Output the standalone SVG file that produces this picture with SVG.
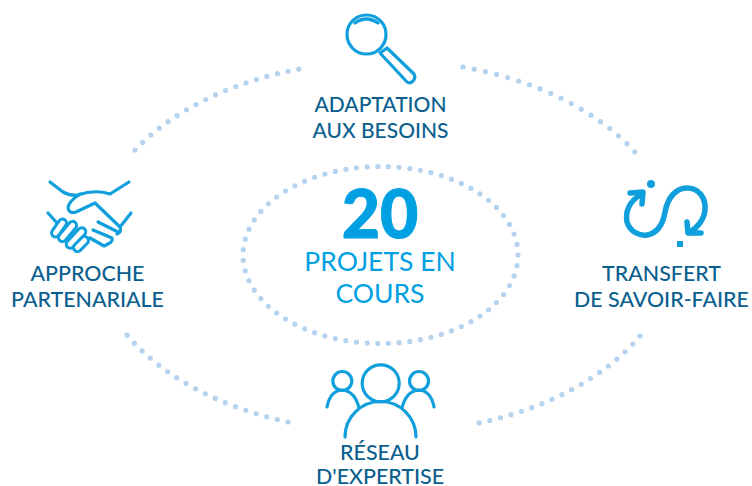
<svg xmlns="http://www.w3.org/2000/svg" width="752" height="486" viewBox="0 0 752 486">
<style>
.lb{font-family:Lato,"Liberation Sans",sans-serif;font-size:21.400px;fill:#0a5f8f;text-anchor:middle;font-weight:500}
.big{font-family:Lato,"Liberation Sans",sans-serif;font-size:26.500px;fill:#00a0e3;text-anchor:middle}
.ic{fill:none;stroke:#0f9fdc;stroke-width:3.200;stroke-linecap:round;stroke-linejoin:round}
.th{stroke-width:5.500}
.fg{fill:#fff;stroke:#0f9fdc;stroke-width:3}
.dot{fill:none;stroke:#b5d3ee;stroke-width:5.200;stroke-linecap:round;stroke-dasharray:0 1}
</style>
<rect width="752" height="486" fill="#fff"/>
<g id="connectors">
<path class="dot" pathLength="17.020" d="M135 150A288 185 0 0 1 299 69"/>
<path class="dot" pathLength="17.020" d="M463 67A288 185 0 0 1 635 152"/>
<path class="dot" pathLength="17.020" d="M640 336A288 185 0 0 1 479 423"/>
<path class="dot" pathLength="17.020" d="M288 422A288 185 0 0 1 127 335"/>
</g>
<g id="center">
<ellipse cx="380.500" cy="255" rx="137.500" ry="88.500" class="dot" pathLength="67"/>
<text x="380" y="238" style="font-family:Lato,'Liberation Sans',sans-serif;font-size:66px;font-weight:900;fill:#00a0e3;stroke:#00a0e3;stroke-width:1;text-anchor:middle">20</text>
<text class="big" x="380" y="271">PROJETS EN</text>
<text class="big" x="380" y="303">COURS</text>
</g>
<g id="adaptation">
<circle cx="366.500" cy="34.500" r="19.500" class="ic"/>
<path class="ic" d="M355 23Q366 15 378 23"/>
<path class="ic" d="M380 53L387 48L414 74Q416 78 413 81Q410 84 407 82Z"/>
<text class="lb" style="font-size:21px" x="380.500" y="112">ADAPTATION</text>
<text class="lb" style="font-size:21px" x="380.500" y="138">AUX BESOINS</text>
</g>
<g id="approche">
<path class="ic" d="M50 182L63 192Q70 196 78 195Q95 189 110 194L129 182"/>
<path class="ic" d="M80 194Q68 202 68 208Q69 214 76 212L95 203L120 227"/>
<path class="ic" d="M48 213L57 223M131 213L120 227Q122 232 117 234M98 222L118 232M93 230L112 238Q113 242 108 244L104 246L90 238"/>
<g class="fg">
<rect x="-4" y="-10" width="8" height="20" rx="4" transform="translate(59 228) rotate(35)"/>
<rect x="-4" y="-12" width="8" height="24" rx="4" transform="translate(67.500 231.500) rotate(40)"/>
<rect x="-4" y="-12.500" width="8" height="25" rx="4" transform="translate(76 238) rotate(43)"/>
<rect x="-4" y="-9" width="8" height="18" rx="4" transform="translate(81 244) rotate(45)"/>
</g>
<text class="lb" x="87.500" y="281">APPROCHE</text>
<text class="lb" x="87.500" y="307">PARTENARIALE</text>
</g>
<g id="transfert">
<path class="ic th" d="M640 195C630 201 625 211 627 222C630 232 640 236 647 235C658 233 663 224 665 212C668 196 677 188 687 188C699 188 706 198 705 210C704 220 697 228 690 232"/>
<path class="ic th" d="M630 193L643 192L642 204M687 222L688 233L701 233"/>
<circle cx="651" cy="184" r="4" fill="#0f9fdc"/>
<rect x="677" y="241" width="6" height="6" fill="#0f9fdc"/>
<text class="lb" x="661.500" y="281">TRANSFERT</text>
<text class="lb" x="661.500" y="307">DE SAVOIR-FAIRE</text>
</g>
<g id="reseau">
<circle cx="380.700" cy="383.300" r="18.500" class="ic"/>
<circle cx="342.300" cy="381" r="9.500" class="ic"/>
<circle cx="419" cy="381" r="9.500" class="ic"/>
<path class="ic" d="M345 437A35.500 35.500 0 0 1 416 437"/>
<path class="ic" d="M327 407Q330 391 342 390Q355 391 359 408M402 408Q406 391 419 390Q431 391 434 407"/>
<text class="lb" x="380" y="460">RÉSEAU</text>
<text class="lb" x="380" y="484">D'EXPERTISE</text>
</g>
</svg>
